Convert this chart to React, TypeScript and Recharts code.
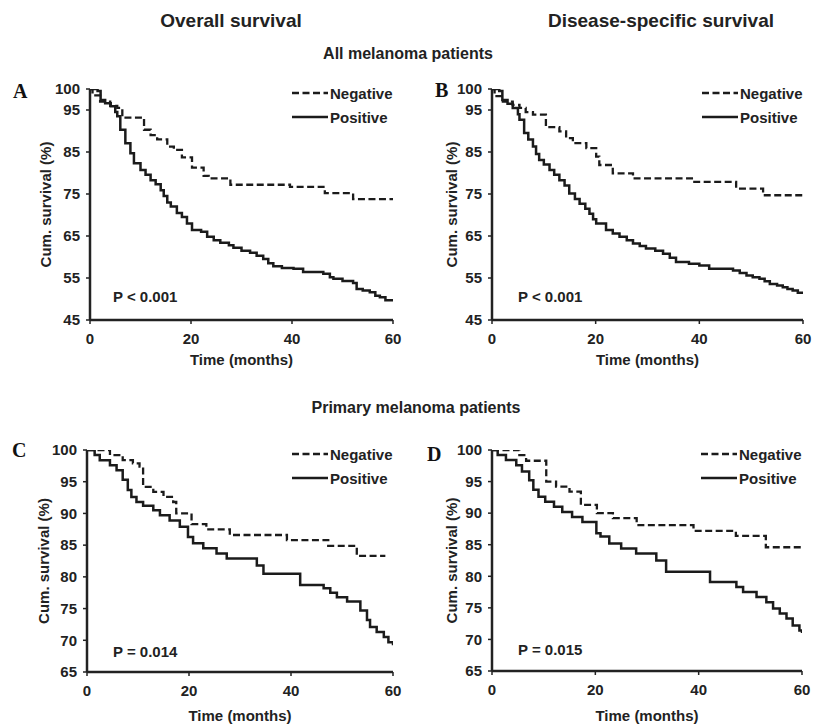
import React from "react";
import { Label, Legend, Line, LineChart, XAxis, YAxis } from "recharts";

// Kaplan-Meier estimates: [months, cum. survival %]
const allOsNeg: [number, number][] = [
  [0, 100], [0.5, 98.5], [2, 97], [4, 96], [5.4, 95.5], [6.4, 93.2], [10.7, 90.3], [12, 89],
  [13.3, 88], [15.3, 86.3], [16.6, 85.5], [18.2, 83.7], [20.2, 81.3], [22.5, 79.3], [23.5, 78.7],
  [27.8, 77.2], [39.6, 76.7], [46.5, 75.2], [52.1, 73.8], [60, 73.8],
];
const allOsPos: [number, number][] = [
  [0, 100], [1.5, 99.5], [2.1, 97.4], [3, 96.6], [4.1, 95.9], [5, 94.5], [5.4, 93.5], [6, 90.3],
  [7, 87.1], [8, 84.7], [8.7, 82.3], [10, 80.7], [11, 79.6], [12, 78.3], [13, 77.3], [14, 75.9],
  [14.6, 74.5], [15.3, 73], [16, 72], [17.2, 70.5], [18.2, 69.5], [19.2, 68], [20.2, 66.4], [22, 66],
  [23.2, 64.8], [24.5, 64], [25.8, 63.4], [27.5, 62.8], [28.4, 62.2], [30, 61.5], [31.7, 61], [33, 60.3],
  [34.3, 59.5], [35.3, 58.5], [36.3, 57.8], [38, 57.4], [40.3, 57.2], [42.2, 56.4], [46.2, 56], [47.5, 55.2],
  [48.2, 54.8], [50, 54.3], [52.1, 53.8], [52.8, 52.4], [54, 52], [55.4, 51.6], [56.5, 50.8], [57.4, 50.4],
  [58.5, 49.7], [60, 49.4],
];
const allDssNeg: [number, number][] = [
  [0, 100], [0.5, 98.3], [2.1, 97], [4, 96.2], [5.3, 95.5], [6.5, 94.5], [7.9, 93.9], [10.4, 90.9],
  [13, 89.9], [14.3, 88.3], [15.6, 87.1], [18.2, 85.9], [20.1, 83.9], [20.7, 81.9], [23.3, 79.9],
  [27.2, 78.7], [38.8, 77.9], [47.1, 76.3], [52.3, 74.7], [60, 74.7],
];
const allDssPos: [number, number][] = [
  [0, 100], [1.4, 99.5], [2, 97.4], [3, 96.5], [4, 95.5], [5, 94], [5.3, 92.7], [6.2, 89.5], [7, 88],
  [7.9, 86.3], [8.5, 84.5], [9.1, 83.1], [10, 82], [11.1, 80.7], [12, 79.6], [13, 78.3], [14, 77],
  [14.9, 75.1], [16, 73.8], [16.9, 72.7], [18, 71.5], [18.8, 70.3], [19.5, 69], [20.1, 68], [22, 66.4],
  [23.3, 65.6], [24.6, 64.8], [26, 64], [27.2, 63.2], [28.5, 62.6], [29.7, 62], [31.5, 61.5], [33, 60.8],
  [34.3, 59.8], [35.5, 58.8], [38, 58.4], [40, 58], [41.9, 57.2], [46.5, 56.8], [47.8, 56.2], [49.1, 55.6],
  [50.3, 55.2], [51.6, 54.8], [52.6, 54.2], [53.6, 53.6], [55, 53.2], [56.1, 52.8], [57, 52.4], [58, 52],
  [59, 51.5], [60, 51.2],
];
const primOsNeg: [number, number][] = [
  [0, 100], [4.5, 99.2], [7, 98.4], [9, 97.9], [10.3, 97.4], [11, 94.2], [13, 93.4], [15, 92.6],
  [16.9, 91.8], [17.5, 90], [20.5, 88.3], [23.4, 87.5], [28, 86.6], [39.2, 85.8], [47.3, 84.9],
  [52.9, 83.3], [58.5, 83.3],
];
const primOsPos: [number, number][] = [
  [0, 100], [1.5, 99.2], [2.5, 98.4], [4.5, 97.6], [5.8, 96.8], [7, 95.3], [8, 93.7], [8.7, 92.6],
  [9.7, 91.8], [11, 91.2], [13, 90.5], [14.3, 89.7], [16.2, 88.9], [18.2, 87.9], [19.8, 86.3],
  [20.8, 85.3], [22.8, 84.5], [25.4, 83.7], [27.4, 82.9], [33.3, 81.8], [34.6, 80.5], [41.8, 78.7],
  [46.4, 78.2], [47.7, 77.5], [49, 76.8], [51, 76.1], [53.6, 74.7], [54.9, 73.2], [55.5, 72.1],
  [56.8, 71.3], [58.2, 70.5], [59.1, 69.7], [60, 69.2],
];
const primDssNeg: [number, number][] = [
  [0, 100], [5.3, 99.2], [6.6, 98.3], [10.5, 95], [12.4, 94.2], [15, 93.4], [17.2, 91.3], [20.3, 90],
  [23.4, 89.2], [28, 88.1], [39, 87.2], [47.2, 86.4], [53, 84.6], [60, 84.6],
];
const primDssPos: [number, number][] = [
  [0, 100], [1.1, 99.2], [2.7, 98.4], [4.7, 97.6], [5.8, 96.6], [7.2, 95.2], [8, 93.7], [9, 92.6],
  [10.3, 91.8], [12, 91], [13.6, 90.2], [15.5, 89.4], [17.5, 88.6], [20.2, 86.8], [21, 86.3],
  [22.7, 85.2], [25, 84.4], [27.9, 83.6], [31.8, 82.5], [33.7, 80.7], [42.2, 79.1], [47.3, 78.3],
  [48.6, 77.5], [51.2, 76.7], [53.1, 75.9], [54.4, 74.9], [55.7, 74.1], [57, 73.3], [58.2, 72.2],
  [59.5, 71.4], [60, 71],
];

const xTicks = [0, 20, 40, 60];
const yTicksAll = [45, 55, 65, 75, 85, 95, 100];
const yTicksPrimary = [65, 70, 75, 80, 85, 90, 95, 100];
const pValues = ["P < 0.001", "P < 0.001", "P = 0.014", "P = 0.015"];

const FONT = '"Liberation Sans", Arial, Helvetica, sans-serif';
const INK = "#222";
const LINE = "#1b1b1b";
const DASH = "7 3.5";
const Y_W = 80;
const X_H = 30;
const M_T = 20;
const M_R = 20;
const M_B = 30;

const toRows = (pts: [number, number][]) => pts.map(([t, s]) => ({ t, s }));

const panels = [
  { letter: "A", lx: 13, ly: 98, plot: { l: 90, t: 89, r: 393, b: 320 }, domain: [45, 100], ticks: yTicksAll, neg: allOsNeg, pos: allOsPos, p: pValues[0], px: 23, py: 18, yDx: 45, xDy: 45 },
  { letter: "B", lx: 435, ly: 97, plot: { l: 492, t: 89, r: 803, b: 320 }, domain: [45, 100], ticks: yTicksAll, neg: allDssNeg, pos: allDssPos, p: pValues[1], px: 26, py: 18, yDx: 41, xDy: 45 },
  { letter: "C", lx: 12, ly: 457, plot: { l: 87, t: 450, r: 393, b: 672 }, domain: [65, 100], ticks: yTicksPrimary, neg: primOsNeg, pos: primOsPos, p: pValues[2], px: 26, py: 15, yDx: 44, xDy: 49 },
  { letter: "D", lx: 427, ly: 461, plot: { l: 492, t: 450, r: 802, b: 671 }, domain: [65, 100], ticks: yTicksPrimary, neg: primDssNeg, pos: primDssPos, p: pValues[3], px: 26, py: 16, yDx: 41, xDy: 50 },
];

const tickStyle = { fill: INK, fontSize: 15, fontWeight: 700, fontFamily: FONT };
const textStyle = { fill: INK, fontSize: 15, fontWeight: 700, fontFamily: FONT };

function LegendBox() {
  return (
    <svg width={112} height={40} style={{ display: "block", overflow: "visible" }}>
      <line x1={0} x2={36} y1={14} y2={14} stroke={LINE} strokeWidth={2.3} strokeDasharray={DASH} />
      <text x={38} y={19.5} style={textStyle}>Negative</text>
      <line x1={0} x2={36} y1={38} y2={38} stroke={LINE} strokeWidth={2.5} />
      <text x={38} y={43.5} style={textStyle}>Positive</text>
    </svg>
  );
}

function SurvivalPanel({ cfg }: { cfg: (typeof panels)[number] }) {
  const { l, t, r, b } = cfg.plot;
  const W = r - l + Y_W + M_R;
  const H = b - t + M_T + X_H + M_B;
  return (
    <div style={{ position: "absolute", left: l - Y_W, top: t - M_T }}>
      <LineChart width={W} height={H} margin={{ top: M_T, right: M_R, left: 0, bottom: M_B }}>
        <XAxis
          type="number"
          dataKey="t"
          domain={[0, 60]}
          ticks={xTicks}
          interval={0}
          allowDataOverflow
          height={X_H}
          tickSize={4}
          tickMargin={9}
          axisLine={{ stroke: INK, strokeWidth: 2.5 }}
          tickLine={{ stroke: INK, strokeWidth: 1.5 }}
          tick={tickStyle}
        >
          <Label
            content={({ viewBox }: any) => (
              <text x={viewBox.x + viewBox.width / 2} y={viewBox.y + cfg.xDy} textAnchor="middle" style={textStyle}>
                Time (months)
              </text>
            )}
          />
        </XAxis>
        <YAxis
          type="number"
          domain={cfg.domain}
          ticks={cfg.ticks}
          interval={0}
          allowDataOverflow
          width={Y_W}
          tickSize={4}
          tickMargin={6}
          axisLine={{ stroke: INK, strokeWidth: 2.5 }}
          tickLine={{ stroke: INK, strokeWidth: 1.5 }}
          tick={tickStyle}
        >
          <Label
            content={({ viewBox }: any) => {
              const cx = viewBox.x + viewBox.width - cfg.yDx;
              const cy = viewBox.y + viewBox.height / 2;
              return (
                <text x={cx} y={cy} transform={`rotate(-90 ${cx} ${cy})`} textAnchor="middle" dominantBaseline="central" style={textStyle}>
                  Cum. survival (%)
                </text>
              );
            }}
          />
        </YAxis>
        <Legend
          layout="vertical"
          align="center"
          verticalAlign="middle"
          content={() => <LegendBox />}
          wrapperStyle={{ left: W - M_R - 101, top: M_T - 10, width: 112 }}
        />
        <Line data={toRows(cfg.neg)} dataKey="s" name="Negative" type="stepAfter" stroke={LINE} strokeWidth={2.3} strokeDasharray={DASH} dot={false} activeDot={false} isAnimationActive={false} />
        <Line data={toRows(cfg.pos)} dataKey="s" name="Positive" type="stepAfter" stroke={LINE} strokeWidth={2.5} dot={false} activeDot={false} isAnimationActive={false} />
      </LineChart>
    </div>
  );
}

export default function App() {
  return (
    <div style={{ position: "absolute", left: 0, top: 0, width: 814, height: 725, background: "#fff" }}>
      {panels.map((cfg) => (
        <SurvivalPanel key={cfg.letter} cfg={cfg} />
      ))}
      <svg width={814} height={725} style={{ position: "absolute", left: 0, top: 0, pointerEvents: "none" }}>
        <text x={231} y={27} textAnchor="middle" style={{ ...textStyle, fontSize: 19 }}>Overall survival</text>
        <text x={661} y={27} textAnchor="middle" style={{ ...textStyle, fontSize: 19 }}>Disease-specific survival</text>
        <text x={408} y={59} textAnchor="middle" style={{ ...textStyle, fontSize: 16 }}>All melanoma patients</text>
        <text x={416} y={413} textAnchor="middle" style={{ ...textStyle, fontSize: 16 }}>Primary melanoma patients</text>
        {panels.map((cfg) => (
          <g key={cfg.letter}>
            <text x={cfg.lx} y={cfg.ly} style={{ fill: "#111", fontSize: 20, fontWeight: 700, fontFamily: '"Liberation Serif", "Times New Roman", serif' }}>
              {cfg.letter}
            </text>
            <text x={cfg.plot.l + cfg.px} y={cfg.plot.b - cfg.py} style={textStyle}>
              {cfg.p}
            </text>
          </g>
        ))}
      </svg>
    </div>
  );
}
